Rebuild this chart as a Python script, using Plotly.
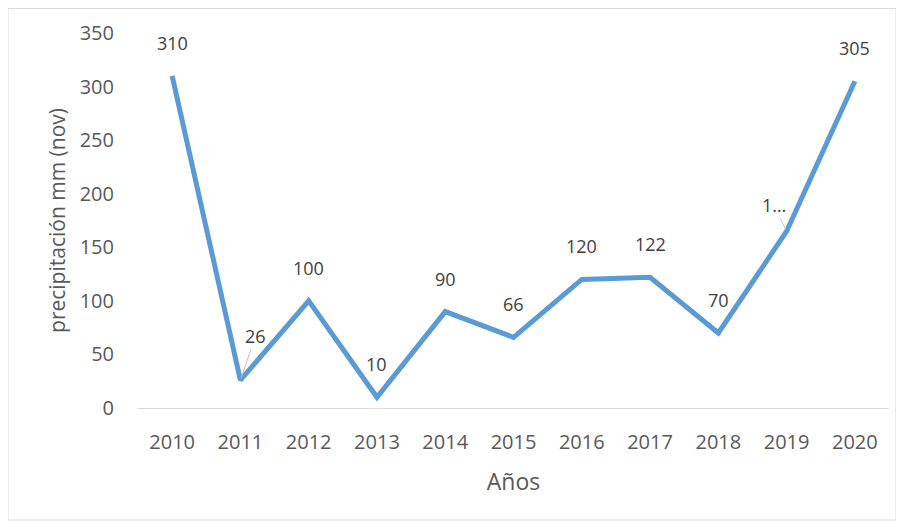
import plotly.graph_objects as go

years = ["2010", "2011", "2012", "2013", "2014", "2015", "2016", "2017", "2018", "2019", "2020"]
precip = [310, 26, 100, 10, 90, 66, 120, 122, 70, 165, 305]
labels = ["310", "26", "100", "10", "90", "66", "120", "122", "70", "1…", "305"]
y_ticks = [0, 50, 100, 150, 200, 250, 300, 350]

# label offsets in pixels (style); entries with leader lines
offsets = {1: (15, -44), 9: (-13, -26)}

# the page body has an 8px margin, so the figure is sized to fit the 904x525 window
W, H = 896, 517
ml, mr, mt, mb = 130, 15, 25, 117
pw = W - ml - mr
ph = H - mt - mb

fig = go.Figure()
fig.add_trace(go.Scatter(
    x=years, y=precip, mode="lines",
    line=dict(color="#5B9BD5", width=5),
    hoverinfo="x+y", showlegend=False,
))

ann = []
for i, (v, lab) in enumerate(zip(precip, labels)):
    font = dict(family="Open Sans", size=18, color="#404040")
    if i in offsets:
        ax, ay = offsets[i]
        ann.append(dict(
            x=i, y=v, xref="x", yref="y", text=lab,
            showarrow=True, arrowhead=0, arrowwidth=1, arrowcolor="#BFBFBF",
            ax=ax, ay=ay, standoff=2, font=font,
        ))
    else:
        ann.append(dict(
            x=i, y=v, xref="x", yref="y", text=lab,
            showarrow=False, yshift=33, font=font,
        ))
fig.update_layout(annotations=ann)

fig.add_shape(type="rect", xref="paper", yref="paper",
              x0=(0 - ml) / pw, x1=(888 - ml) / pw,
              y0=(H - mb - 512) / ph, y1=(H - mb - 0.5) / ph,
              line=dict(color="#D9D9D9", width=1), fillcolor="rgba(0,0,0,0)", layer="below")

fig.update_layout(
    width=W, height=H,
    margin=dict(l=ml, r=mr, t=mt, b=mb),
    paper_bgcolor="white", plot_bgcolor="white",
    font=dict(family="Open Sans", size=20, color="#595959"),
    xaxis=dict(
        type="category", showgrid=False, showline=True, linecolor="#D9D9D9", linewidth=1,
        ticks="", tickfont=dict(size=20, color="#595959"), ticklabelstandoff=16,
        range=[-0.5, 10.5],
        title=dict(text="Años", font=dict(size=23, color="#595959"), standoff=19),
    ),
    yaxis=dict(
        range=[0, 350], tickvals=y_ticks, showgrid=False, zeroline=False, showline=False,
        ticks="", tickfont=dict(size=20, color="#595959"), ticklabelstandoff=23,
        title=dict(text="precipitación mm (nov)", font=dict(size=21, color="#595959"), standoff=8),
    ),
)

fig.write_html("out.html")
